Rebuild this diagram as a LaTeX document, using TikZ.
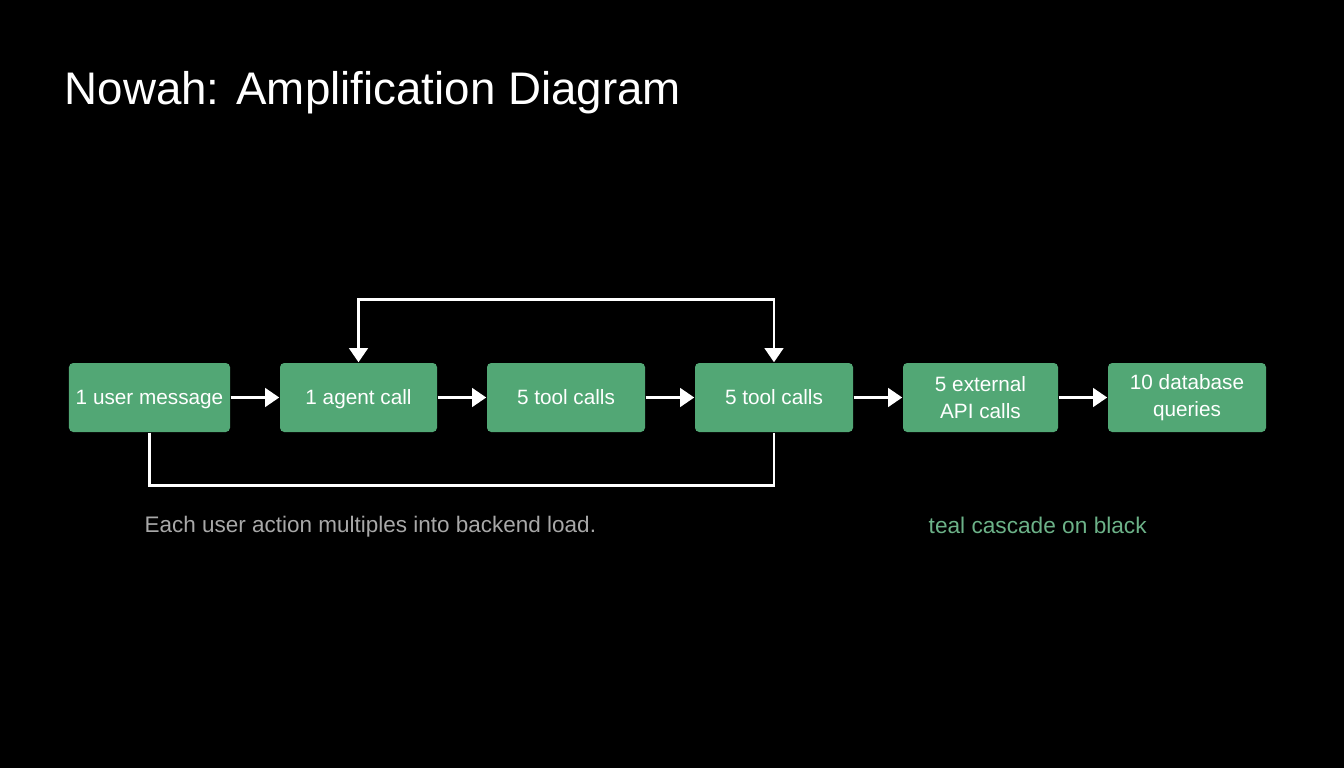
\documentclass[tikz,border=0pt]{standalone}
\usepackage{fontspec}
\setmainfont{Liberation Sans}
\usetikzlibrary{shapes,arrows.meta}
\definecolor{boxgreen}{RGB}{82,167,117}
\definecolor{notegrey}{RGB}{168,168,168}
\definecolor{notegreen}{RGB}{108,178,136}
\tikzstyle{line} = [draw=white, line width=0.85pt, -{Triangle[length=4pt,width=5.2pt]}]
\tikzstyle{stage} = [fill=boxgreen, rounded corners=1.2pt, minimum width=1.58cm, minimum height=0.69cm, inner sep=0pt, align=center, text=white, font=\fontsize{5.9}{7.7}\selectfont]
\tikzstyle{oneline} = [text height=5pt, text depth=1pt]

\begin{document}
\begin{tikzpicture}
\fill[black] (0,0) rectangle (13.44,-7.68);
\useasboundingbox (0,0) rectangle (13.44,-7.68);
\node (title) at (0.64,-0.93) [anchor=west, inner sep=0pt, text=white, font=\fontsize{13}{16}\selectfont] {Nowah: Amplification Diagram};
\node (user) at (1.495,-3.975) [stage, oneline, minimum width=1.61cm] {1 user message};
\node (agent) at (3.585,-3.975) [stage, oneline, minimum width=1.57cm] {1 agent call};
\node (toolsa) at (5.66,-3.975) [stage, oneline] {5 tool calls};
\node (toolsb) at (7.74,-3.975) [stage, oneline] {5 tool calls};
\node (api) at (9.805,-3.975) [stage, minimum width=1.55cm] {5 external\\API calls};
\node (db) at (11.87,-3.975) [stage] {10 database\\queries};
\node (note) at (1.44,-5.27) [anchor=west, inner sep=0pt, text=notegrey, font=\fontsize{6.4}{7.5}\selectfont] {Each user action multiples into backend load.};
\node (style) at (9.28,-5.25) [anchor=west, inner sep=0pt, text=notegreen, font=\fontsize{6.45}{7.5}\selectfont] {teal cascade on black};
% draw lines
\path [line] (user) -- (agent);
\path [line] (agent) -- (toolsa);
\path [line] (toolsa) -- (toolsb);
\path [line] (toolsb) -- (api);
\path [line] (api) -- (db);
\path [line,{Triangle[length=4pt,width=5.2pt]}-{Triangle[length=4pt,width=5.2pt]}] (agent.north) -- ++(0,0.63) -| (toolsb.north);
\path [line,-] (user.south) -- ++(0,-0.53) -| (toolsb.south);
\end{tikzpicture}
\end{document}
